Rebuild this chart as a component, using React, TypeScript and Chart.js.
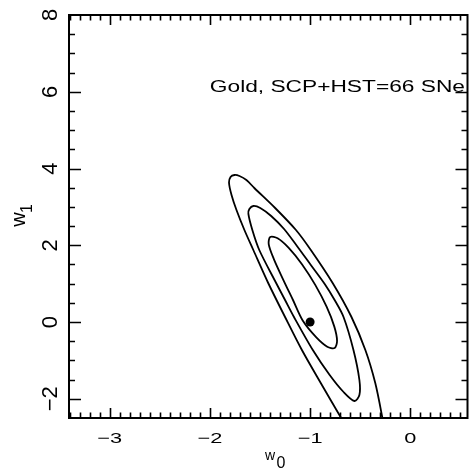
import { useEffect, useRef } from "react";
import { Chart, registerables } from "chart.js";

Chart.register(...registerables);

// Axis ranges (w0 horizontal, w1 vertical)
const X_MIN = -3.405;
const X_MAX = 0.57;
const Y_MIN = -2.5;
const Y_MAX = 8;

const xMajorTicks = [-3, -2, -1, 0];
const xTickLabels = ["\u22123", "\u22122", "\u22121", "0"];
const yMajorTicks = [-2, 0, 2, 4, 6, 8];
const yTickLabels = ["\u22122", "0", "2", "4", "6", "8"];
const xMinorStep = 0.1;
const yMinorStep = 0.5;

// Confidence contours as [w0, w1] pairs
const contourInner: [number, number][] = [
  [-1.1708, 0.5745], [-1.0723, 0.0339], [-0.9404, -0.3919], [-0.8292, -0.6415],
  [-0.7558, -0.6759], [-0.7311, -0.4903], [-0.7592, -0.1126], [-0.8356, 0.3986],
  [-0.9488, 0.9674], [-1.0814, 1.506], [-1.2133, 1.9317], [-1.3244, 2.1813],
  [-1.3979, 2.2157], [-1.413, 2.031], [-1.3636, 1.6532], [-1.2746, 1.1399],
  [-1.1708, 0.5745],
];

const contourMiddle: [number, number][] = [
  [-1.2499, 0.5745], [-1.1609, 0.1316], [-0.973, -0.7282], [-0.8049, -1.3796],
  [-0.6665, -1.8225], [-0.5577, -2.057], [-0.5083, -1.9007], [-0.5083, -1.5099],
  [-0.5676, -0.7282], [-0.6665, 0.1316], [-0.7555, 0.5745], [-0.8543, 0.9914],
  [-0.9928, 1.4864], [-1.1312, 1.9815], [-1.2598, 2.4244], [-1.3883, 2.7631],
  [-1.4971, 2.9715], [-1.5663, 3.0237], [-1.6059, 2.9455], [-1.6157, 2.8152],
  [-1.5762, 2.3983], [-1.507, 1.8772], [-1.3389, 1.0174], [-1.2499, 0.5745],
];

const contourOuter: [number, number][] = [
  [-0.6467, -2.6823], [-0.6961, -2.4739], [-0.8939, -1.588], [-1.0818, -0.7282],
  [-1.2499, 0.1316], [-1.418, 1.0174], [-1.5663, 1.8772], [-1.6553, 2.3983],
  [-1.7344, 2.9194], [-1.7838, 3.3102], [-1.8086, 3.6229], [-1.7937, 3.7792],
  [-1.7542, 3.8313], [-1.7047, 3.8053], [-1.6355, 3.7011], [-1.5564, 3.4926],
  [-1.3488, 2.9715], [-1.1411, 2.3983], [-0.9928, 1.8772], [-0.7752, 1.0174],
  [-0.5874, 0.1316], [-0.4489, -0.7282], [-0.35, -1.588], [-0.2808, -2.4739],
  [-0.2709, -2.6823],
];

const bestFit: [number, number] = [-1, 0];

const annotationText = "Gold, SCP+HST=66 SNe";
const annotationAt: [number, number] = [-2, 6];

const FONT = '"Liberation Sans", Arial, sans-serif';

type LabelOpts = {
  size: number;
  sx?: number;
  sy?: number;
  rotate?: boolean;
  align?: CanvasTextAlign;
};

function drawLabel(
  ctx: CanvasRenderingContext2D,
  text: string,
  x: number,
  y: number,
  opts: LabelOpts
) {
  ctx.save();
  ctx.translate(x, y);
  if (opts.rotate) ctx.rotate(-Math.PI / 2);
  ctx.scale(opts.sx ?? 1, opts.sy ?? 1);
  ctx.font = `${opts.size}px ${FONT}`;
  ctx.textAlign = opts.align ?? "center";
  ctx.textBaseline = "alphabetic";
  ctx.fillStyle = "#000";
  ctx.fillText(text, 0, 0);
  ctx.restore();
}

// Frame with inward ticks on all four sides, tick labels, axis titles and annotation
const framePlugin = {
  id: "pgFrame",
  afterDraw(chart: any) {
    const ctx: CanvasRenderingContext2D = chart.ctx;
    const { left, right, top, bottom } = chart.chartArea;
    const xs = chart.scales.x;
    const ys = chart.scales.y;
    ctx.save();
    ctx.strokeStyle = "#000";
    ctx.lineCap = "butt";

    // ticks
    ctx.lineWidth = 1.6;
    ctx.beginPath();
    const nx = Math.round((X_MAX - X_MIN) / xMinorStep) + 2;
    for (let i = -2; i < nx; i++) {
      const v = Math.ceil(X_MIN / xMinorStep) * xMinorStep + i * xMinorStep;
      if (v < X_MIN || v > X_MAX) continue;
      const isMajor = Math.abs(v - Math.round(v)) < 1e-6;
      const len = isMajor ? 10 : 5.5;
      const px = Math.round(xs.getPixelForValue(v)) + 0.5;
      ctx.moveTo(px, bottom);
      ctx.lineTo(px, bottom - len);
      ctx.moveTo(px, top);
      ctx.lineTo(px, top + len);
    }
    const ny = Math.round((Y_MAX - Y_MIN) / yMinorStep) + 2;
    for (let i = -2; i < ny; i++) {
      const v = Math.ceil(Y_MIN / yMinorStep) * yMinorStep + i * yMinorStep;
      if (v <= Y_MIN + 1e-6 || v >= Y_MAX - 1e-6) continue;
      const isMajor = Math.abs(v / 2 - Math.round(v / 2)) < 1e-6;
      const len = isMajor ? 12 : 6;
      const py = Math.round(ys.getPixelForValue(v)) + 0.5;
      ctx.moveTo(left, py);
      ctx.lineTo(left + len, py);
      ctx.moveTo(right, py);
      ctx.lineTo(right - len, py);
    }
    ctx.stroke();

    // frame
    ctx.lineWidth = 2;
    ctx.strokeRect(left, top, right - left, bottom - top);
    ctx.restore();

    // tick labels
    xMajorTicks.forEach((v, i) => {
      drawLabel(ctx, xTickLabels[i], xs.getPixelForValue(v), 443, {
        size: 15,
        sx: 1.45,
      });
    });
    yMajorTicks.forEach((v, i) => {
      drawLabel(ctx, yTickLabels[i], 57, ys.getPixelForValue(v), {
        size: 22,
        rotate: true,
      });
    });

    // axis titles
    drawLabel(ctx, "w", 270, 460, { size: 14 });
    drawLabel(ctx, "0", 281, 468, { size: 16 });
    drawLabel(ctx, "w", 25, 219.5, { size: 20, rotate: true });
    drawLabel(ctx, "1", 32, 208.5, { size: 16, rotate: true });

    // annotation
    drawLabel(
      ctx,
      annotationText,
      xs.getPixelForValue(annotationAt[0]),
      ys.getPixelForValue(annotationAt[1]),
      { size: 16, sx: 1.42, align: "left" }
    );
  },
};

function toPoints(arr: [number, number][]) {
  return arr.map(([x, y]) => ({ x, y }));
}

function lineSet(arr: [number, number][]) {
  return {
    data: toPoints(arr),
    showLine: true,
    borderColor: "#000",
    borderWidth: 1.8,
    pointRadius: 0,
    tension: 0.3,
    fill: false,
    clip: 0,
  };
}

export default function App() {
  const canvasRef = useRef<HTMLCanvasElement | null>(null);

  useEffect(() => {
    if (!canvasRef.current) return;
    const chart = new Chart(canvasRef.current, {
      type: "scatter",
      data: {
        datasets: [
          lineSet(contourOuter),
          lineSet(contourMiddle),
          lineSet(contourInner),
          {
            data: [{ x: bestFit[0], y: bestFit[1] }],
            pointRadius: 4.5,
            pointBackgroundColor: "#000",
            pointBorderColor: "#000",
            pointBorderWidth: 0,
            showLine: false,
          },
        ],
      },
      options: {
        responsive: false,
        animation: false,
        devicePixelRatio: 1,
        layout: { padding: { left: 69, top: 15, right: 1, bottom: 52 } },
        plugins: {
          legend: { display: false },
          tooltip: { enabled: false },
        },
        scales: {
          x: { type: "linear", min: X_MIN, max: X_MAX, display: false },
          y: { type: "linear", min: Y_MIN, max: Y_MAX, display: false },
        },
      },
      plugins: [framePlugin],
    });
    return () => chart.destroy();
  }, []);

  return (
    <div style={{ position: "absolute", left: 0, top: 0, width: 472, height: 470, background: "#fff" }}>
      <canvas ref={canvasRef} width={472} height={470} style={{ display: "block" }} />
    </div>
  );
}
